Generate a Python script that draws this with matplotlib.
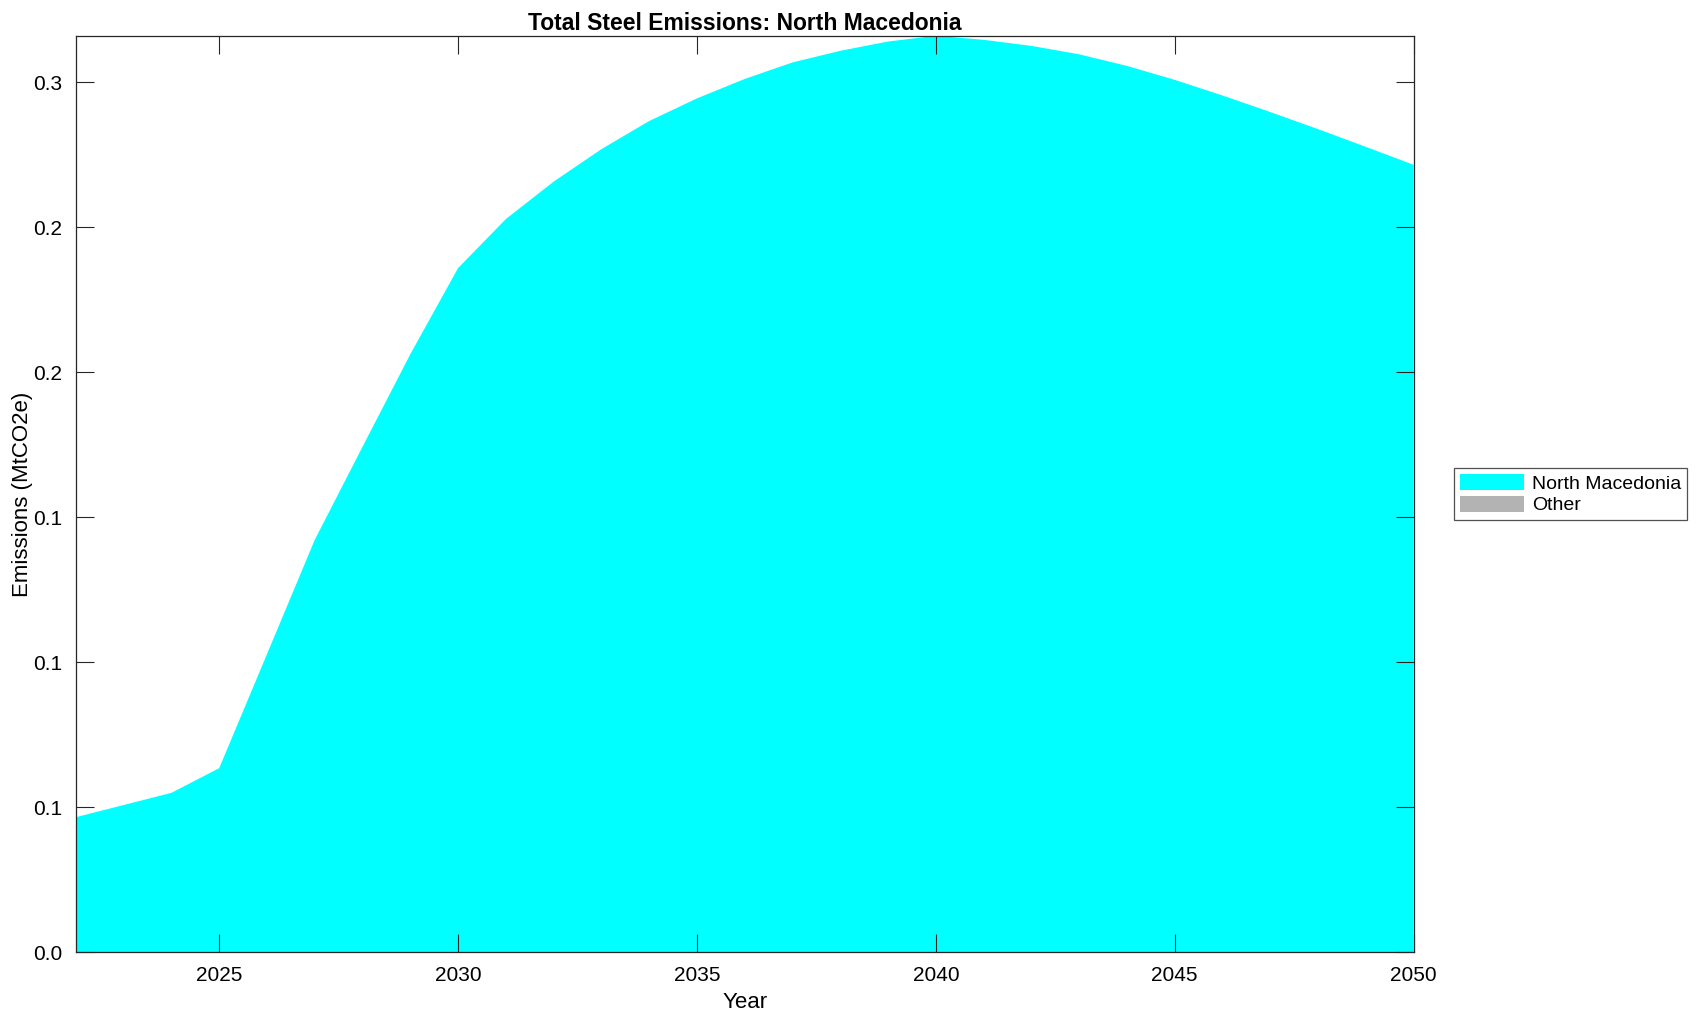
import matplotlib
matplotlib.use("Agg")
import matplotlib.pyplot as plt
from matplotlib.ticker import FormatStrFormatter

plt.rcParams["font.family"] = ["Liberation Sans", "DejaVu Sans"]

# Дані (MtCO2e)
years = list(range(2022, 2051))
north_macedonia = [
    0.0466, 0.0508, 0.0550, 0.0635, 0.1028, 0.1422, 0.1743, 0.2062, 0.2359,
    0.2528, 0.2657, 0.2769, 0.2866, 0.2944, 0.3011, 0.3068, 0.3108, 0.3140,
    0.3160, 0.3146, 0.3125, 0.3096, 0.3056, 0.3008, 0.2954, 0.2897, 0.2838,
    0.2777, 0.2715,
]
other = [0.0] * len(years)

series_names = ["North Macedonia", "Other"]
series_colors = ["#00ffff", "#b3b3b3"]

fig = plt.figure(figsize=(16.97, 10.21), dpi=100)
ax = fig.add_axes([0.0447, 0.0672, 0.7883, 0.8978])

ax.stackplot(years, north_macedonia, other, labels=series_names,
             colors=series_colors, linewidth=0)

ax.set_xlim(2022, 2050)
ax.set_ylim(0, max(north_macedonia))
ax.set_xticks(range(2025, 2051, 5))
ax.set_yticks([0, 0.05, 0.1, 0.15, 0.2, 0.25, 0.3])
ax.yaxis.set_major_formatter(FormatStrFormatter("%.1f"))

ax.tick_params(direction="in", length=13, width=0.8, top=True, right=True,
               labelsize=15, colors="#262626", labelcolor="black", pad=10)
for s in ax.spines.values():
    s.set_color("#262626")
    s.set_linewidth(0.9)
    s.set_zorder(5)

ax.set_title("Total Steel Emissions: North Macedonia", fontsize=16.5,
             fontweight="bold", pad=4)
ax.set_xlabel("Year", fontsize=16, labelpad=5)
ax.set_ylabel("Emissions (MtCO2e)", fontsize=16, labelpad=0)

leg = ax.legend(loc="center left", bbox_to_anchor=(1.0305, 0.5), fontsize=14,
                frameon=True, fancybox=False, edgecolor="#262626",
                handlelength=3.3, handleheight=0.9, borderpad=0.3,
                labelspacing=0.15, handletextpad=0.4, borderaxespad=0)
leg.get_frame().set_linewidth(0.9)

fig.savefig("out.png", dpi=100)
